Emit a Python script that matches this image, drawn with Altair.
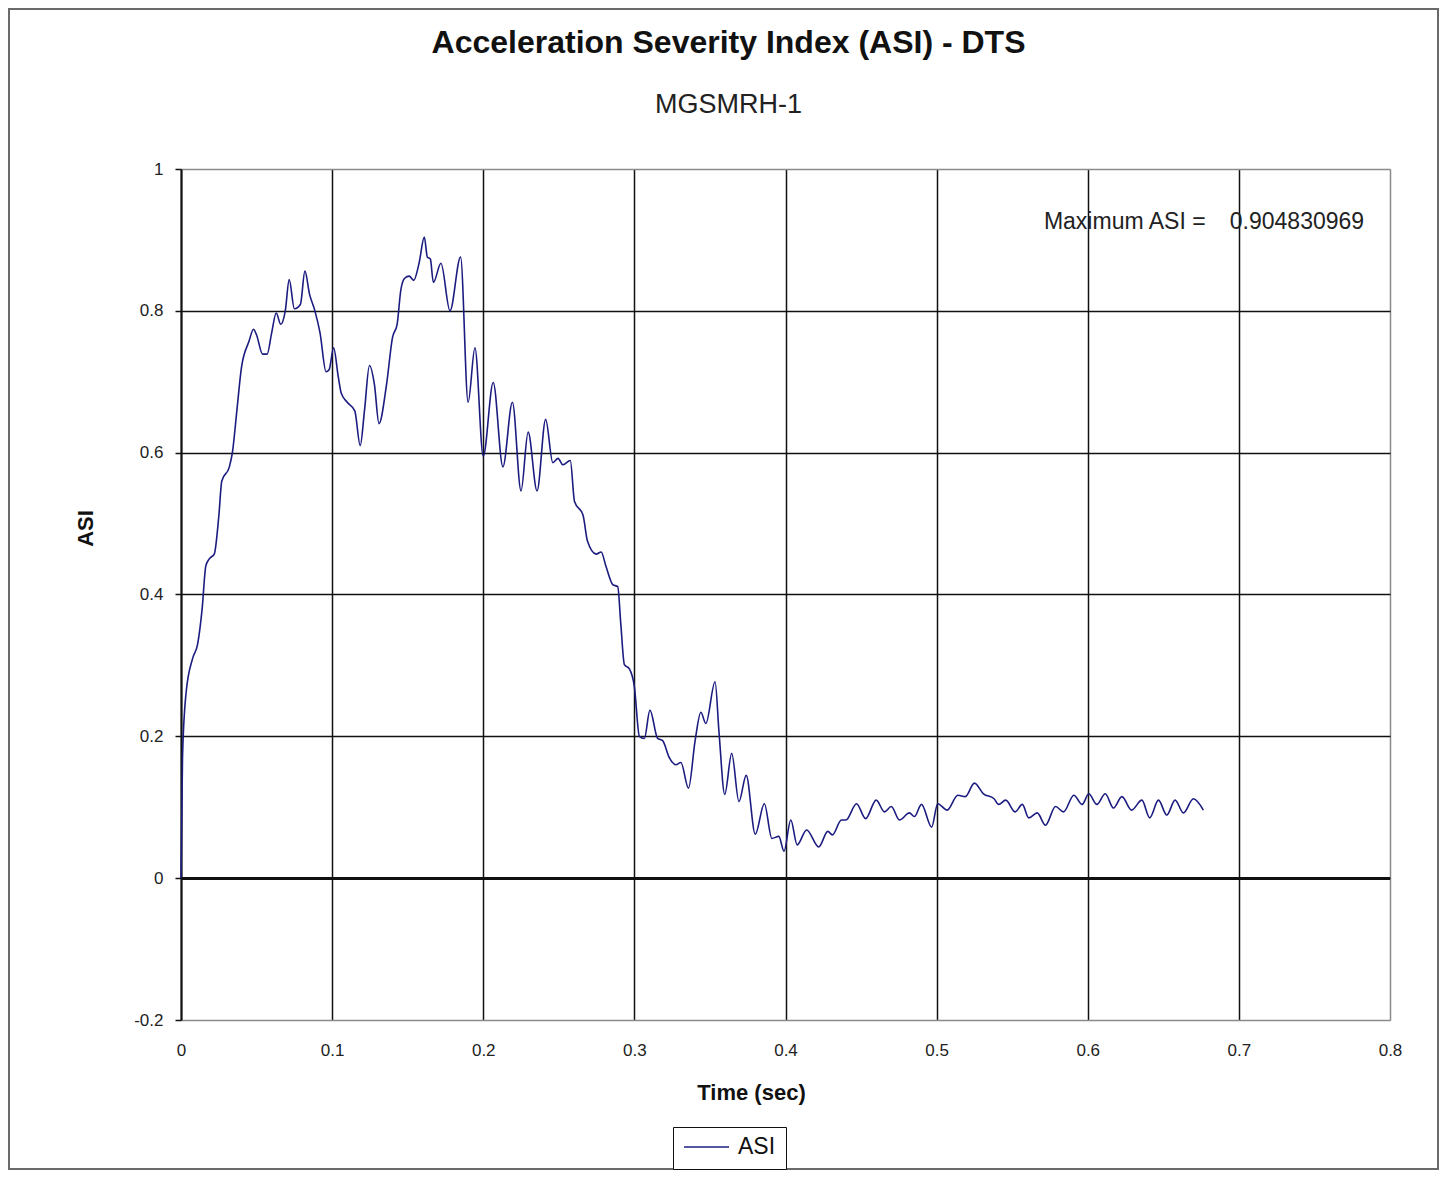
import altair as alt
import pandas as pd

# Time (sec) and ASI values
time_s = [0, 0.001, 0.0033, 0.0077, 0.011, 0.014, 0.0164, 0.0186, 0.022, 0.025,
          0.027, 0.032, 0.034, 0.037, 0.040, 0.045, 0.048, 0.050, 0.054, 0.057,
          0.060, 0.063, 0.066, 0.069, 0.0716, 0.075, 0.079, 0.082, 0.085, 0.0886,
          0.092, 0.096, 0.098, 0.101, 0.104, 0.106, 0.110, 0.115, 0.1186, 0.1214,
          0.1247, 0.128, 0.131, 0.136, 0.140, 0.143, 0.1455, 0.148, 0.151, 0.154,
          0.1575, 0.161, 0.163, 0.165, 0.167, 0.172, 0.178, 0.185, 0.190, 0.1945,
          0.200, 0.2066, 0.213, 0.2193, 0.225, 0.2297, 0.2356, 0.2413, 0.246, 0.2495,
          0.2527, 0.2576, 0.2604, 0.266, 0.269, 0.2747, 0.278, 0.2813, 0.2857, 0.289,
          0.291, 0.2934, 0.2967, 0.300, 0.3033, 0.3066, 0.3103, 0.3154, 0.3187, 0.3231,
          0.3275, 0.3308, 0.3358, 0.3402, 0.344, 0.3473, 0.3534, 0.356, 0.3598, 0.3644,
          0.3692, 0.374, 0.380, 0.386, 0.391, 0.3956, 0.399, 0.4035, 0.4077, 0.414,
          0.422, 0.428, 0.431, 0.437, 0.440, 0.447, 0.453, 0.460, 0.4655, 0.470,
          0.4754, 0.482, 0.4853, 0.490, 0.4967, 0.5007, 0.507, 0.514, 0.519, 0.525,
          0.531, 0.538, 0.541, 0.5457, 0.552, 0.5567, 0.561, 0.5666, 0.572, 0.5787,
          0.584, 0.5908, 0.5963, 0.6007, 0.606, 0.6116, 0.617, 0.6226, 0.629, 0.6358,
          0.641, 0.6468, 0.6523, 0.6578, 0.6633, 0.6699, 0.6765]
asi = [0, 0.17, 0.26, 0.31, 0.33, 0.38, 0.44, 0.45, 0.457, 0.51,
       0.56, 0.58, 0.60, 0.66, 0.72, 0.757, 0.774, 0.766, 0.739, 0.739,
       0.769, 0.797, 0.781, 0.80, 0.844, 0.803, 0.809, 0.856, 0.824, 0.80,
       0.769, 0.714, 0.717, 0.748, 0.708, 0.684, 0.671, 0.659, 0.610, 0.659,
       0.723, 0.696, 0.641, 0.696, 0.763, 0.781, 0.830, 0.846, 0.849, 0.843,
       0.867, 0.904, 0.876, 0.873, 0.840, 0.867, 0.80, 0.876, 0.671, 0.748,
       0.595, 0.699, 0.580, 0.671, 0.546, 0.629, 0.546, 0.647, 0.586, 0.592,
       0.583, 0.589, 0.531, 0.512, 0.475, 0.457, 0.460, 0.439, 0.414, 0.411,
       0.359, 0.301, 0.295, 0.270, 0.200, 0.197, 0.237, 0.197, 0.194, 0.170,
       0.160, 0.163, 0.127, 0.194, 0.234, 0.218, 0.277, 0.206, 0.118, 0.176,
       0.108, 0.145, 0.062, 0.105, 0.056, 0.059, 0.038, 0.082, 0.047, 0.068,
       0.044, 0.066, 0.061, 0.082, 0.082, 0.105, 0.084, 0.110, 0.0935, 0.101,
       0.082, 0.092, 0.087, 0.104, 0.072, 0.105, 0.096, 0.117, 0.115, 0.134,
       0.119, 0.112, 0.104, 0.110, 0.0935, 0.104, 0.085, 0.092, 0.0747, 0.101,
       0.0935, 0.117, 0.104, 0.119, 0.104, 0.119, 0.099, 0.115, 0.096, 0.110,
       0.085, 0.110, 0.089, 0.110, 0.092, 0.112, 0.096]

x_ticks = [0, 0.1, 0.2, 0.3, 0.4, 0.5, 0.6, 0.7, 0.8]
y_ticks = [-0.2, 0, 0.2, 0.4, 0.6, 0.8, 1]

note_labels = ["Maximum ASI =", "0.904830969"]
note_x = [0.571, 0.694]
note_y = [0.925, 0.925]

FONT = "Liberation Sans"
NAVY = "#1c1c80"

df = pd.DataFrame({"t": time_s, "asi": asi, "series": ["ASI"] * len(time_s)})
notes = pd.DataFrame({"x": note_x, "y": note_y, "label": note_labels})

x_scale = alt.Scale(domain=[0, 0.8], nice=False, zero=False)
y_scale = alt.Scale(domain=[-0.2, 1], nice=False, zero=False)

x_axis = alt.Axis(
    values=x_ticks, format="~g", grid=True,
    gridColor=alt.condition("datum.value >= 0.79", alt.value("#8a8a8a"), alt.value("#111111")),
    gridWidth=1.5, domain=False, ticks=False, labelPadding=22, labelFlush=False,
    labelFont=FONT, labelFontSize=17, labelColor="#222",
    title="Time (sec)", titleFont=FONT, titleFontSize=22, titleFontWeight="bold",
    titleColor="#111", titleX=570, titleY=72, titleAlign="center", titleBaseline="middle",
)
y_axis = alt.Axis(
    values=y_ticks, format="~g", grid=True,
    labelExpr="datum.value < 0 ? '-' + format(abs(datum.value), '~g') : datum.label",
    gridColor=alt.condition("datum.value >= 0.99 || datum.value <= -0.19",
                            alt.value("#8a8a8a"), alt.value("#111111")),
    gridWidth=1.5, domain=True, domainColor="#111", domainWidth=2,
    ticks=True, tickSize=6, tickColor="#111", tickWidth=1.5, labelPadding=12,
    labelFlush=False,
    labelFont=FONT, labelFontSize=17, labelColor="#222",
    title="ASI", titleFont=FONT, titleFontSize=22, titleFontWeight="bold",
    titleColor="#111", titleX=-96, titleY=359, titleAlign="center", titleBaseline="middle",
    titleAngle=270,
)

line = alt.Chart(df).mark_line(strokeWidth=1.6, interpolate="monotone").encode(
    x=alt.X("t:Q", scale=x_scale, axis=x_axis),
    y=alt.Y("asi:Q", scale=y_scale, axis=y_axis),
    color=alt.Color(
        "series:N",
        scale=alt.Scale(domain=["ASI"], range=[NAVY]),
        legend=alt.Legend(
            title=None, orient="none", legendX=492, legendY=958,
            symbolType="stroke", symbolSize=2025, symbolStrokeWidth=1.5,
            clipHeight=20,
            labelFont=FONT, labelFontSize=23, labelColor="#111", labelOffset=8,
            strokeColor="#111", padding=10, fillColor="white",
        ),
    ),
)

zero_rule = alt.Chart(df).mark_rule(color="#111", strokeWidth=2).encode(
    y=alt.datum(0, scale=y_scale)
)

note_text = alt.Chart(notes).mark_text(
    align="left", baseline="middle", font=FONT, fontSize=23, color="#222"
).encode(
    x=alt.X("x:Q", scale=x_scale),
    y=alt.Y("y:Q", scale=y_scale),
    text="label:N",
)

frame = alt.Chart(notes).mark_rect(
    fill=None, stroke="#6a6a6a", strokeWidth=2, clip=False
).encode(
    x=alt.value(-172), x2=alt.value(1257), y=alt.value(-160), y2=alt.value(1000)
)

chart = alt.layer(frame, zero_rule, line, note_text).properties(
    width=1209,
    height=851,
    padding={"left": 173, "top": 161, "right": 50, "bottom": 150},
    autosize=alt.AutoSizeParams(type="none"),
    title=alt.Title(
        "Acceleration Severity Index (ASI) - DTS",
        subtitle="MGSMRH-1",
        font=FONT, fontSize=32, fontWeight="bold", color="#111",
        subtitleFont=FONT, subtitleFontSize=27, subtitleColor="#222",
        subtitlePadding=32, anchor="middle", frame="group", dx=-57, offset=-111,
    ),
).configure_view(stroke="#8a8a8a", strokeWidth=1.5).configure(background="white")

chart.save("out.html", embed_options={"renderer": "svg", "actions": False})
